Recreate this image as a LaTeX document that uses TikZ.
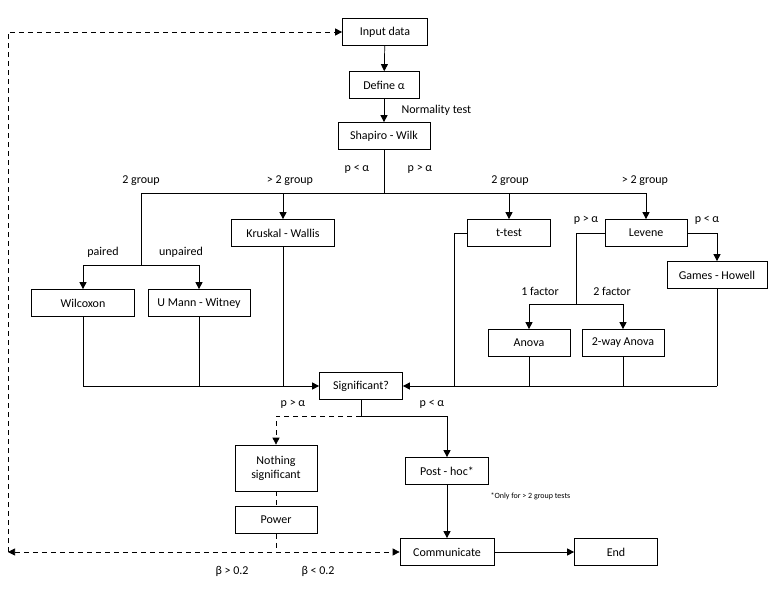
\documentclass[tikz,border=0pt]{standalone}
\usepackage{fontspec}
\setmainfont{Carlito}
\usetikzlibrary{arrows.meta}
\begin{document}
\begin{tikzpicture}[x=1pt,y=-1pt,
  box/.style={draw,line width=0.7pt,minimum height=27pt,inner sep=2pt,font=\fontsize{12}{13}\selectfont},
  lbl/.style={font=\fontsize{12}{13}\selectfont},
  con/.style={line width=0.7pt},
  arr/.style={con,-{Triangle[length=7pt,width=7pt]}},
  dsh/.style={con,dash pattern=on 5pt off 4pt}]
\useasboundingbox (0,0) rectangle (768,594);
\node[box,minimum width=85pt] (in) at (385,32) {Input data};
\node[box,minimum width=70pt] (def) at (384,85) {Define α};
\node[box,minimum width=92pt] (sw) at (384,136) {Shapiro - Wilk};
\node[box,minimum width=103pt] (kw) at (283,233) {Kruskal - Wallis};
\node[box,minimum width=83pt] (tt) at (509,233) {t-test};
\node[box,minimum width=82pt] (lev) at (646,233) {Levene};
\node[box,minimum width=103pt] (wil) at (83,303) {Wilcoxon};
\node[box,minimum width=102pt] (um) at (199,303) {U Mann - Witney};
\node[box,minimum width=100pt] (gh) at (717,275) {Games - Howell};
\node[box,minimum width=82pt] (an) at (529,343) {Anova};
\node[box,minimum width=82pt] (an2) at (623,343) {2-way Anova};
\node[box,minimum width=83pt] (sig) at (361,386) {Significant?};
\node[box,minimum width=82pt,minimum height=46pt,align=center,font=\fontsize{12}{14}\selectfont] (ns) at (276,468) {Nothing\\significant};
\node[box,minimum width=82pt] (pow) at (276,520) {Power};
\node[box,minimum width=83pt] (ph) at (447,471) {Post - hoc*};
\node[box,minimum width=94pt] (com) at (447,552) {Communicate};
\node[box,minimum width=83pt] (end) at (616,552) {End};
% labels
\node[lbl,anchor=west] (nt) at (398,110) {Normality test};
\node[lbl] (l1) at (357,169) {p < α};
\node[lbl] (l2) at (420,169) {p > α};
\node[lbl] (l3) at (141,181) {2 group};
\node[lbl] (l4) at (290,181) {> 2 group};
\node[lbl] (l5) at (510,181) {2 group};
\node[lbl] (l6) at (645,181) {> 2 group};
\node[lbl] (l7) at (103,252) {paired};
\node[lbl] (l8) at (181,252) {unpaired};
\node[lbl] (l9) at (586,220) {p > α};
\node[lbl] (l10) at (707,220) {p < α};
\node[lbl] (l11) at (540,291) {1 factor};
\node[lbl] (l12) at (612,291) {2 factor};
\node[lbl] (l13) at (293,404) {p > α};
\node[lbl] (l14) at (432,404) {p < α};
\node[font=\fontsize{8}{9}\selectfont,anchor=west] (fn) at (487,496) {*Only for > 2 group tests};
\node[lbl] (l15) at (232,571) {β > 0.2};
\node[lbl] (l16) at (318,571) {β < 0.2};
% coordinates
\coordinate (j1) at (384,193);
\coordinate (jl) at (141,193);
\coordinate (jr) at (646,193);
\coordinate (j2) at (141,265);
\coordinate (jf) at (576,304);
\coordinate (jt) at (454,386);
\coordinate (jk) at (83,386);
\coordinate (jg) at (717,386);
\coordinate (js) at (361,416);
\coordinate (jp) at (276,552);
\coordinate (ll) at (8,552);
\coordinate (lt) at (8,32);
% connectors
\draw[arr] (in) -- (def);
\draw[arr] (def) -- (sw);
\draw[con] (sw) -- (j1);
\draw[con] (jl) -- (jr);
\draw[arr] (kw.north|-j1) -- (kw);
\draw[arr] (tt.north|-j1) -- (tt);
\draw[arr] (jr) -- (lev);
\draw[con] (jl) -- (j2);
\draw[arr] (j2) -| (wil);
\draw[arr] (j2) -| (um);
\draw[arr] (lev.east) -| (gh);
\draw[con] (lev.west) -| (jf);
\draw[arr] (jf) -| (an);
\draw[arr] (jf) -| (an2);
\draw[con] (tt.west) -| (jt);
\draw[arr] (jk) -- (sig);
\draw[con] (wil) -- (jk);
\draw[con] (um) -- (um|-jk);
\draw[con] (kw) -- (kw|-jk);
\draw[arr] (jg) -- (sig);
\draw[con] (gh) -- (jg);
\draw[con] (an) -- (an|-jg);
\draw[con] (an2) -- (an2|-jg);
\draw[con] (sig) -- (js);
\draw[dsh,-{Triangle[length=7pt,width=7pt]}] (js) -| (ns);
\draw[arr] (js) -| (ph);
\draw[arr] (ph) -- (com);
\draw[dsh] (ns) -- (pow);
\draw[dsh] (pow) -- (jp);
\draw[dsh,{Triangle[length=7pt,width=7pt]}-{Triangle[length=7pt,width=7pt]}] (ll) -- (com);
\draw[dsh,-{Triangle[length=7pt,width=7pt]}] (ll) -- (lt) -- (in);
\draw[arr] (com) -- (end);
\end{tikzpicture}
\end{document}
